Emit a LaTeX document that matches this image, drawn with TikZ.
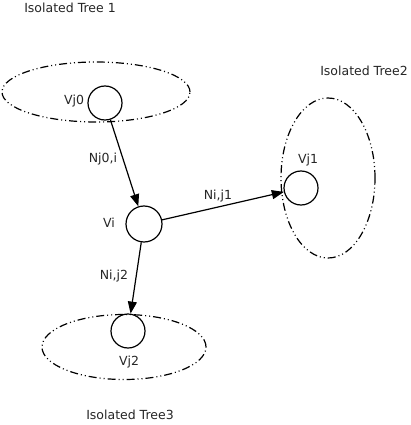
\documentclass[tikz,border=0pt]{standalone}
\usepackage{fontspec}
\setmainfont{DejaVu Sans}
\usetikzlibrary{arrows.meta, shapes.geometric}
\begin{document}
\begin{tikzpicture}[x=1pt, y=-1pt]
\tikzset{noeud/.style={draw, circle, line width=1.2pt, minimum size=34pt, inner sep=0pt},
  arbre/.style={draw, ellipse, line width=1.2pt, dash pattern=on 8pt off 3pt on 1pt off 3pt on 1pt off 3pt, inner sep=0pt},
  etiq/.style={font=\fontsize{12.5}{14}\selectfont, text=black!85, inner sep=0pt},
  fleche/.style={line width=1.2pt, -{Triangle[length=12pt, width=9pt]}}}
\useasboundingbox (0, 0) rectangle (411, 425);
\node[arbre, minimum width=188pt, minimum height=60pt] (T1) at (96, 92) {};
\node[arbre, minimum width=94pt, minimum height=160pt] (T2) at (328, 178) {};
\node[arbre, minimum width=164pt, minimum height=65pt] (T3) at (124, 347) {};
\node[noeud] (Vj0) at (105, 103) {};
\node[noeud, minimum size=36pt] (Vi) at (144, 224) {};
\node[noeud] (Vj1) at (301, 188) {};
\node[noeud] (Vj2) at (128, 331) {};
\node[etiq] (L1) at (70, 8) {Isolated Tree 1};
\node[etiq] (L2) at (364, 71) {Isolated Tree2};
\node[etiq] (L3) at (130, 415) {Isolated Tree3};
\node[etiq] (lVj0) at (74, 101) {Vj0};
\node[etiq] (lVi) at (109, 223) {Vi};
\node[etiq] (lVj1) at (308, 160) {Vj1};
\node[etiq] (lVj2) at (129, 362) {Vj2};
\draw[fleche] (Vj0) -- (Vi);
\draw[fleche] (Vi) -- (Vj1);
\draw[fleche] (Vi) -- (Vj2);
\node[etiq] (e1) at (103, 159) {Nj0,i};
\node[etiq] (e2) at (218, 196) {Ni,j1};
\node[etiq] (e3) at (114, 276) {Ni,j2};
\end{tikzpicture}
\end{document}
